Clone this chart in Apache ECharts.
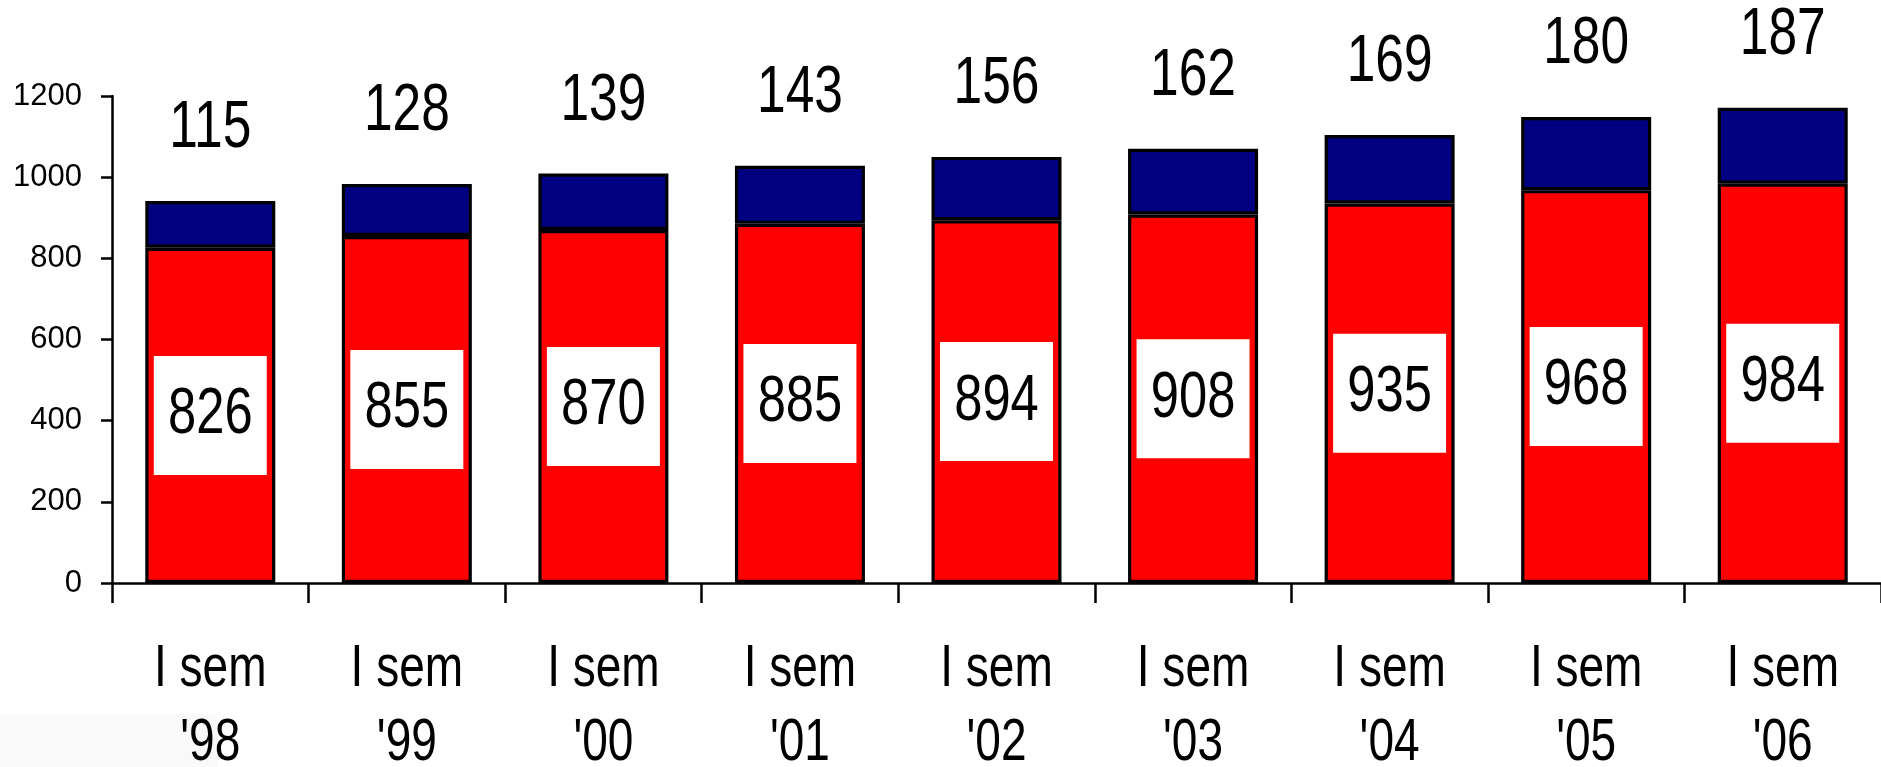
<!DOCTYPE html>
<html>
<head>
<meta charset="utf-8">
<script src="https://cdn.jsdelivr.net/npm/echarts@6/dist/echarts.min.js"></script>
<style>
html,body{margin:0;padding:0;background:#fff;}
#chart{width:1881px;height:767px;}
</style>
</head>
<body>
<div id="chart"></div>
<script>
const categoryLine1 = ["I sem","I sem","I sem","I sem","I sem","I sem","I sem","I sem","I sem"];
const categoryLine2 = ["'98","'99","'00","'01","'02","'03","'04","'05","'06"];
const redValues = [826, 855, 870, 885, 894, 908, 935, 968, 984];
const blueValues = [115, 128, 139, 143, 156, 162, 169, 180, 187];
const yTicks = [0, 200, 400, 600, 800, 1000, 1200];

const categories = categoryLine1.map((a, i) => a + "\n" + categoryLine2[i]);
const FONT = '"Liberation Sans", Arial, sans-serif';
const SQUEEZE = 0.78;

function squeezedText(x, y, text, size) {
  return {
    type: 'text', x: x, y: y, scaleX: SQUEEZE, scaleY: 1, silent: true,
    style: {text: text, x: 0, y: 0, fill: '#000', font: size + 'px ' + FONT,
            align: 'center', verticalAlign: 'middle'}
  };
}

const chart = echarts.init(document.getElementById('chart'), null, {renderer: 'canvas'});
chart.setOption({
  animation: false,
  backgroundColor: '#ffffff',
  graphic: [{
    type: 'rect', z: -10, silent: true,
    shape: {x: 0, y: 714, width: 217, height: 60},
    style: {fill: '#f9f9f9'}
  }],
  grid: {left: 112, right: -9, top: 96, bottom: 184, containLabel: false},
  xAxis: {
    type: 'category',
    data: categories,
    axisLine: {show: true, lineStyle: {color: '#000', width: 2.5}},
    axisTick: {show: true, length: 20, inside: false, lineStyle: {color: '#000', width: 2.5}},
    axisLabel: {show: false}
  },
  yAxis: {
    type: 'value',
    min: yTicks[0], max: yTicks[yTicks.length - 1], interval: 200,
    splitLine: {show: false},
    axisLine: {show: true, lineStyle: {color: '#000', width: 2.5}},
    axisTick: {show: true, length: 11, lineStyle: {color: '#000', width: 2.5}},
    axisLabel: {color: '#000', fontFamily: FONT, fontSize: 31, margin: 30,
                formatter: v => String(v)}
  },
  series: [
    {
      name: 'red', type: 'bar', stack: 'total', barWidth: 130,
      data: redValues,
      itemStyle: {color: '#ff0000', borderColor: '#000', borderWidth: 3.2}
    },
    {
      name: 'blue', type: 'bar', stack: 'total', barWidth: 130,
      data: blueValues,
      itemStyle: {color: '#000080', borderColor: '#000', borderWidth: 3.2}
    },
    {
      name: 'labels', type: 'custom', z: 10, clip: false,
      data: redValues.map((r, i) => [i, r, blueValues[i]]),
      encode: {x: 0, y: 1},
      renderItem: function (params, api) {
        const i = api.value(0);
        const r = api.value(1);
        const b = api.value(2);
        const mid = api.coord([i, r / 2]);
        const top = api.coord([i, r + b]);
        const base = api.coord([i, 0]);
        return {
          type: 'group',
          children: [
            {type: 'rect', silent: true,
             shape: {x: mid[0] - 56.5, y: mid[1] - 59.5, width: 113, height: 119},
             style: {fill: '#ffffff'}},
            squeezedText(mid[0], mid[1], String(r), 65),
            squeezedText(top[0], top[1] - 72, String(b), 66),
            squeezedText(base[0], base[1] + 86.5, categoryLine1[i], 59),
            squeezedText(base[0], base[1] + 160.7, categoryLine2[i], 59)
          ]
        };
      }
    }
  ]
});
</script>
</body>
</html>
